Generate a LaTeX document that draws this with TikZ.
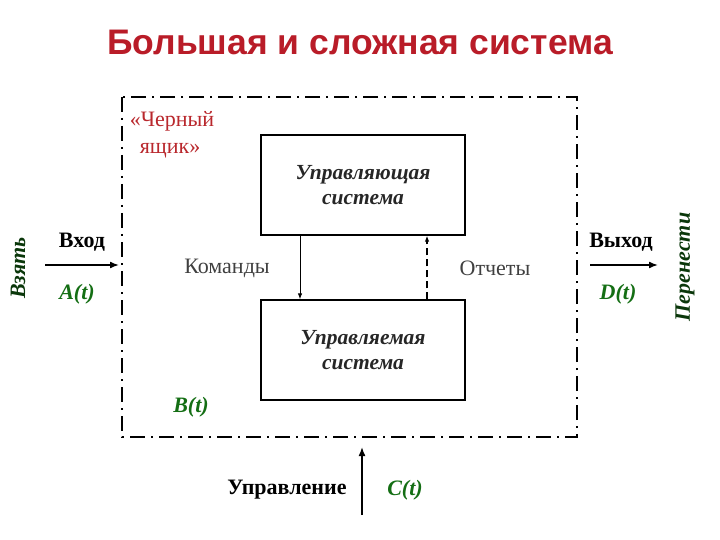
\documentclass[tikz,border=0pt]{standalone}
\usepackage{fontspec}
\setmainfont{Liberation Serif}
\newfontfamily\titlefont{Liberation Sans}
\usetikzlibrary{arrows.meta}
\definecolor{titlered}{RGB}{185,28,40}
\definecolor{boxred}{RGB}{185,40,45}
\definecolor{dgreen}{RGB}{20,110,20}
\tikzset{
  blk/.style={draw, line width=1.3pt, minimum width=204pt, minimum height=100pt, align=center, text=black!85, font=\fontsize{21.5}{25}\selectfont\bfseries\itshape},
  lbl/.style={font=\fontsize{22}{25}\selectfont\bfseries},
  glbl/.style={text=dgreen, font=\fontsize{22}{25}\selectfont\bfseries\itshape},
  arr/.style={-{Latex[length=9pt,width=7pt]}, line width=1.6pt},
  thin/.style={-{Latex[length=6pt,width=4.5pt]}, line width=1pt}
}
\begin{document}
\begin{tikzpicture}[x=1pt,y=-1pt]
\useasboundingbox (0,0) rectangle (720,540);
\node[text=titlered, font=\titlefont\fontsize{35.5}{38}\selectfont\bfseries] (title) at (360,42) {Большая и сложная система};
\draw[line width=2.4pt, dash pattern=on 15pt off 6pt on 2pt off 6pt] (122,97) rectangle (577,437);
\node[blk] (top) at (363,185) {Управляющая\\система};
\node[blk] (bot) at (363,350) {Управляемая\\система};
\draw[thin] (top.south -| 300,0) -- (bot.north -| 300,0);
\draw[thin, line width=1.6pt, dash pattern=on 7pt off 4pt] (bot.north -| 427,0) -- (top.south -| 427,0);
\node[font=\fontsize{22}{25}\selectfont, text=black!75] (cmd) at (227,268) {Команды};
\node[font=\fontsize{22}{25}\selectfont, text=black!75] (rep) at (495,268) {Отчеты};
\node[text=boxred, align=left, font=\fontsize{22}{27}\selectfont] (bb) at (172,135) {«Черный\\\hspace*{10pt}ящик»};
\node[glbl] (bt) at (191,407) {B(t)};
% input
\coordinate (in0) at (45,265);
\coordinate (in1) at (119,265);
\draw[arr] (in0) -- (in1);
\node[lbl] (vhod) at (82,242) {Вход};
\node[glbl] (at) at (77,294) {A(t)};
\node[glbl, text=black!50!dgreen, rotate=90] (take) at (18,268) {Взять};
% output
\coordinate (out0) at (590,265);
\coordinate (out1) at (658,265);
\draw[arr] (out0) -- (out1);
\node[lbl] (vyhod) at (621,242) {Выход};
\node[glbl] (dt) at (618,294) {D(t)};
\node[glbl, text=black!50!dgreen, rotate=90] (move) at (685,267) {Перенести};
% control
\coordinate (u0) at (362,515);
\coordinate (u1) at (362,447);
\draw[arr] (u0) -- (u1);
\node[lbl] (upr) at (287,490) {Управление};
\node[glbl] (ct) at (405,490) {C(t)};
\end{tikzpicture}
\end{document}
